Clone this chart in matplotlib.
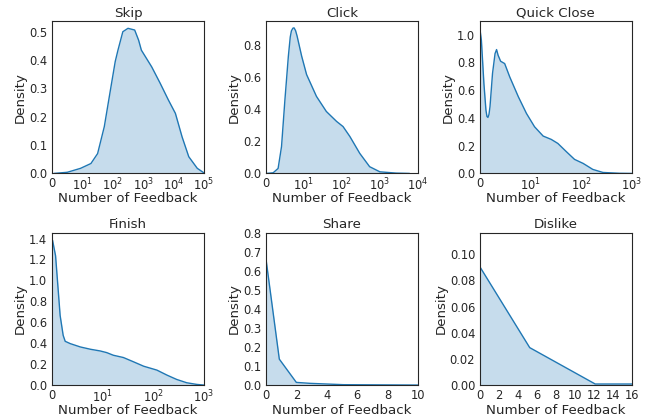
import numpy as np
import matplotlib
matplotlib.use("Agg")
import matplotlib.pyplot as plt
from matplotlib.ticker import FormatStrFormatter
import seaborn as sns

# ── curve points (x in log10(1+n) units for top row + Finish) ──
skip_x = [0.06, 0.5, 0.94, 1.28, 1.5, 1.72, 1.94, 2.08, 2.17, 2.33, 2.5, 2.72, 2.85, 2.94,
          3.28, 3.56, 3.83, 4.06, 4.28, 4.5, 4.78, 5.0]
skip_y = [0.0, 0.004, 0.018, 0.035, 0.07, 0.165, 0.306, 0.395, 0.435, 0.5, 0.512, 0.506,
          0.47, 0.435, 0.376, 0.318, 0.259, 0.212, 0.129, 0.059, 0.018, 0.002]

click_x = [0.02, 0.19, 0.32, 0.41, 0.5, 0.59, 0.64, 0.67, 0.71, 0.74, 0.78, 0.82, 0.94,
           1.07, 1.33, 1.59, 1.86, 2.03, 2.21, 2.47, 2.73, 3.0, 3.43, 3.78]
click_y = [0.0, 0.004, 0.031, 0.167, 0.46, 0.73, 0.85, 0.888, 0.905, 0.907, 0.89, 0.856,
           0.731, 0.616, 0.48, 0.386, 0.324, 0.292, 0.23, 0.125, 0.042, 0.01, 0.002, 0.0]

quick_x = [0.0, 0.03, 0.08, 0.12, 0.14, 0.16, 0.18, 0.2, 0.25, 0.3, 0.33, 0.36, 0.41, 0.49,
           0.59, 0.76, 0.92, 1.08, 1.25, 1.41, 1.54, 1.71, 1.87, 2.04, 2.23, 2.43, 2.76, 3.0]
quick_y = [1.043, 0.96, 0.647, 0.456, 0.41, 0.403, 0.425, 0.48, 0.72, 0.863, 0.892, 0.851,
           0.808, 0.791, 0.695, 0.552, 0.432, 0.336, 0.269, 0.245, 0.216, 0.156, 0.101,
           0.072, 0.029, 0.007, 0.001, 0.0]

finish_x = [0.01, 0.07, 0.11, 0.16, 0.22, 0.26, 0.36, 0.56, 0.76, 0.95, 1.08, 1.21,
            1.41, 1.61, 1.81, 2.07, 2.27, 2.46, 2.66, 2.86, 3.0]
finish_y = [1.384, 1.235, 0.982, 0.665, 0.475, 0.418, 0.396, 0.364, 0.342, 0.326, 0.31,
            0.285, 0.263, 0.222, 0.18, 0.143, 0.095, 0.054, 0.022, 0.006, 0.0]

share_x = [0, 0.88, 2.0, 2.9, 5.1, 10]
share_y = [0.663, 0.136, 0.014, 0.009, 0.002, 0.0]

dislike_x = [0, 5.25, 12.15, 16]
dislike_y = [0.0904, 0.0286, 0.0008, 0.0008]

titles = ["Skip", "Click", "Quick Close", "Finish", "Share", "Dislike"]

sns.set_style("white")
plt.rcParams["font.family"] = ["DejaVu Sans"]

BLUE = "#1f77b4"
LABEL_FS = 9.6
TICK_FS = 8.3


def log_ticks(ax, n):
    """ticks at 0, 10^1 ... 10^n on a log10(1+x) axis"""
    ax.set_xticks(range(n + 1))
    ax.set_xticklabels(["0"] + [f"$10^{{{k}}}$" for k in range(1, n + 1)])
    ax.set_xlim(0, n)


fig, axes = plt.subplots(2, 3, figsize=(6.52, 4.19), dpi=100)
axes = axes.ravel()
series = [(skip_x, skip_y), (click_x, click_y), (quick_x, quick_y),
          (finish_x, finish_y), (share_x, share_y), (dislike_x, dislike_y)]

for ax, (x, y), title in zip(axes, series, titles):
    ax.plot(x, y, color=BLUE, lw=1.0)
    ax.fill_between(x, y, color=BLUE, alpha=0.25, lw=0)
    ax.set_title(title, fontsize=LABEL_FS, pad=3, color="#262626")
    ax.set_xlabel("Number of Feedback", fontsize=LABEL_FS, color="#262626")
    ax.xaxis.set_label_coords(0.5, -0.125)   # fixed spot: mathtext ticks push it too low
    ax.set_ylabel("Density", fontsize=LABEL_FS, labelpad=1.5, color="#262626")
    ax.tick_params(axis="x", labelsize=TICK_FS, length=0, pad=2.5, labelcolor="#262626")
    ax.tick_params(axis="y", labelsize=TICK_FS, length=0, pad=3.4, labelcolor="#262626")
    for s in ax.spines.values():
        s.set_color("#262626")

log_ticks(axes[0], 5)
axes[0].set_ylim(0, 0.538)
log_ticks(axes[1], 4)
axes[1].set_ylim(0, 0.95)
axes[1].set_yticks([0.0, 0.2, 0.4, 0.6, 0.8])
log_ticks(axes[2], 3)
axes[2].set_ylim(0, 1.098)
axes[2].set_yticks([0.0, 0.2, 0.4, 0.6, 0.8, 1.0])
log_ticks(axes[3], 3)
axes[3].set_ylim(0, 1.457)
axes[3].set_yticks(np.arange(0, 1.41, 0.2))

axes[4].set_xlim(0, 10)
axes[4].set_ylim(0, 0.8)
axes[4].set_xticks(range(0, 11, 2))
axes[4].set_yticks(np.arange(0, 0.81, 0.1))

axes[5].set_xlim(0, 16)
axes[5].set_ylim(0, 0.1165)
axes[5].set_xticks(range(0, 17, 2))
axes[5].set_yticks(np.arange(0, 0.101, 0.02))
axes[5].yaxis.set_major_formatter(FormatStrFormatter("%.2f"))
for ax in axes[:5]:
    ax.yaxis.set_major_formatter(FormatStrFormatter("%.1f"))

fig.subplots_adjust(left=0.0798, right=0.969, bottom=0.081, top=0.95,
                    wspace=0.408, hspace=0.388)
fig.savefig("out.png", dpi=100)
